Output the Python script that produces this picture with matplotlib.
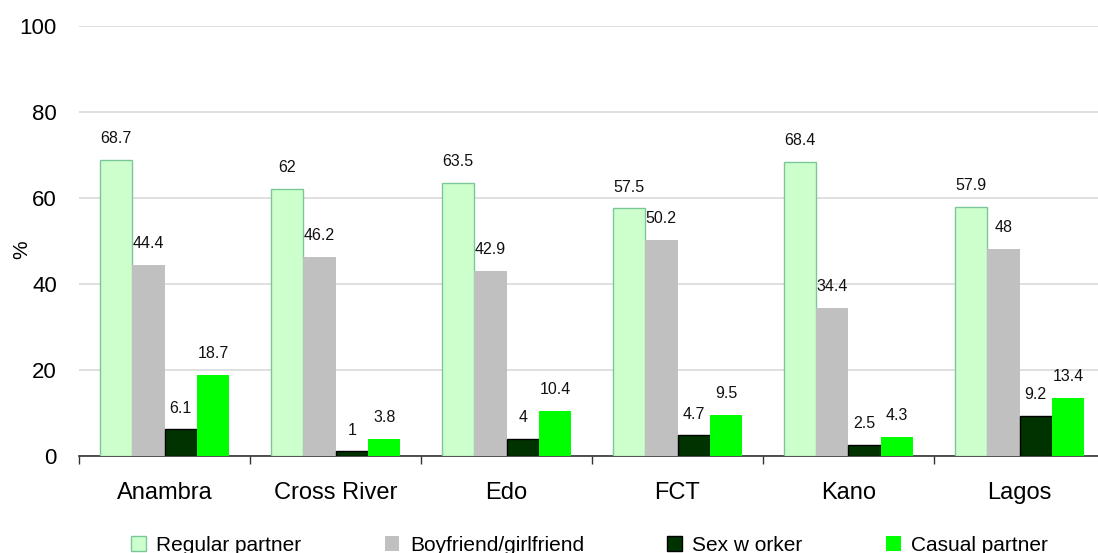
import numpy as np
import matplotlib
matplotlib.use("Agg")
import matplotlib.pyplot as plt

plt.rcParams['font.family'] = ['Liberation Sans', 'DejaVu Sans']

# data
states = ["Anambra", "Cross River", "Edo", "FCT", "Kano", "Lagos"]
series_names = ["Regular partner", "Boyfriend/girlfriend", "Sex w orker", "Casual partner"]
regular = [68.7, 62, 63.5, 57.5, 68.4, 57.9]
boyfriend = [44.4, 46.2, 42.9, 50.2, 34.4, 48]
sex_worker = [6.1, 1, 4, 4.7, 2.5, 9.2]
casual = [18.7, 3.8, 10.4, 9.5, 4.3, 13.4]

fills = ["#ccffcc", "#c0c0c0", "#003300", "#00ff00"]
edges = ["#7cc79a", "#c0c0c0", "#000000", "#00ff00"]
widths_lw = [1.0, 0, 1.0, 0]

fig = plt.figure(figsize=(10.98, 5.53), dpi=100)
ax = fig.add_axes([79 / 1098, 97.3 / 553, 1026 / 1098, 430 / 553])

x = np.arange(len(states))
w = 0.19
all_series = [regular, boyfriend, sex_worker, casual]
for i, vals in enumerate(all_series):
    pos = x + (i - 1.5) * w
    bars = ax.bar(pos, vals, width=w, color=fills[i], edgecolor=edges[i],
                  linewidth=widths_lw[i], label=series_names[i], zorder=3)
    for b, v in zip(bars, vals):
        ax.annotate(f"{v:g}", (b.get_x() + b.get_width() / 2, v),
                    xytext=(0, 10), textcoords="offset points",
                    ha="center", va="bottom", fontsize=11.5, color="#111111")

ax.set_xlim(-0.5, 5.5)
ax.set_ylim(0, 100)
ax.set_yticks(range(0, 101, 20))
ax.yaxis.grid(True, color="#d9d9d9", linewidth=1.2, zorder=0)
ax.set_axisbelow(True)

for s in ["top", "right", "left"]:
    ax.spines[s].set_visible(False)
ax.spines["bottom"].set_color("#333333")
ax.spines["bottom"].set_linewidth(1.2)

# ticks between categories, labels centred
ax.set_xticks(np.arange(-0.5, 6, 1))
ax.set_xticklabels([])
ax.set_xticks(x, minor=True)
ax.set_xticklabels(states, minor=True, fontsize=17)
ax.tick_params(axis="x", which="major", length=6, width=1, color="#333333", direction="out")
ax.tick_params(axis="x", which="minor", length=0, pad=19)
ax.tick_params(axis="y", length=0, pad=16, labelsize=16)

ax.set_ylabel("%", fontsize=15)
ax.yaxis.label.set_va("center")
ax.yaxis.set_label_coords(-57 / 1026, 0.48)

fig.legend(loc="center", bbox_to_anchor=(0.537, 7.5 / 553), ncol=4, frameon=False,
           fontsize=15, handlelength=0.7, handleheight=0.7, handletextpad=0.5,
           columnspacing=4.0)

fig.savefig("out.png", dpi=100)
